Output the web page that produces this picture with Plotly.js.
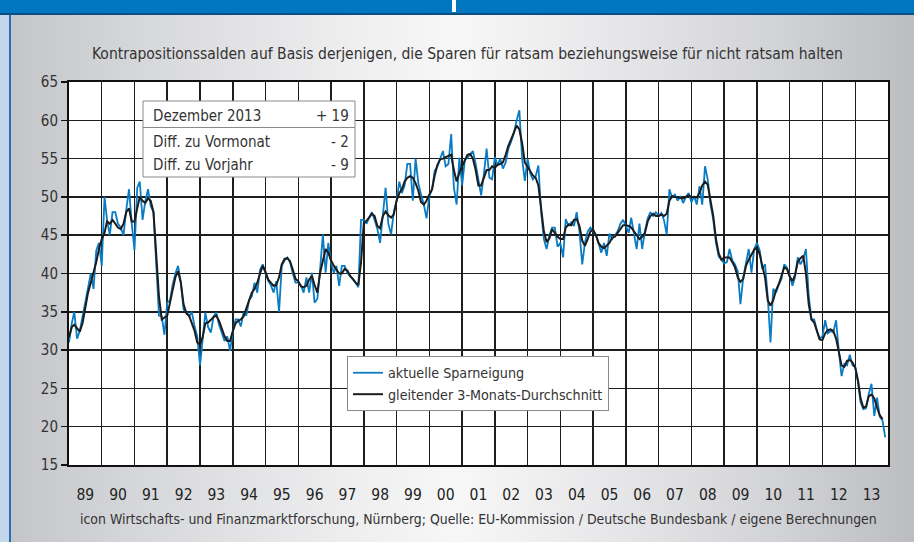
<!DOCTYPE html>
<html>
<head>
<meta charset="utf-8">
<script src="https://cdn.plot.ly/plotly-3.0.1.min.js"></script>
<style>
  html, body { margin:0; padding:0; }
  #wrap { position:relative; width:914px; height:542px; overflow:hidden;
    background: linear-gradient(to right, #c3c4c8 0%, #d6d7da 15%, #eeeeef 38%, #f7f7f7 50%, #e9e9eb 65%, #d2d3d6 85%, #bcbdc1 100%); }
  #topbar { position:absolute; left:0; top:0; width:914px; height:13px; background:#0077c0; border-bottom:2px solid #0b4f82; }
  #mark { position:absolute; left:452px; top:0; width:4px; height:12px; background:#ffffff; }
  #leftstrip { position:absolute; left:0; top:15px; width:9px; height:527px; background:#c2d6ec; border-right:2px solid #2b6fb1; }
  #chart { position:absolute; left:0; top:0; width:914px; height:542px; }
</style>
</head>
<body>
<div id="wrap">
  <div id="topbar"></div>
  <div id="mark"></div>
  <div id="leftstrip"></div>
  <div id="chart"></div>
</div>
<script>
// ---- data (monthly, Jan 1989 – Dec 2013) ----
const startYear = 1989;
const endYear = 2013;

const sparneigung = [
  31, 33.5, 35, 31.5, 32.5, 34.5, 36.5, 38.5, 40, 38, 43, 44,
  41, 50, 47, 45, 48, 48, 46.5, 46, 45, 48.3, 51, 46.6,
  43, 51.2, 52, 47, 49.4, 51, 48.8, 48, 41, 34.5, 34.4, 32,
  36.2, 36.5, 38.5, 40, 41, 38.8, 35.3, 35, 34.4, 35, 33.1, 31.8,
  28, 32, 34.9, 33, 32.3, 34.4, 34.9, 33.3, 32.3, 31.2, 31.8, 29.9,
  32.3, 34, 34, 33.1, 34.9, 34.5, 36.5, 37, 38.8, 37.5, 40.5, 41.2,
  40, 39, 38.5, 37.5, 39, 35, 41, 41.7, 42.1, 41.5, 40, 38.8,
  38.8, 38.4, 37.5, 39.5, 37.5, 40.1, 36.2, 36.7, 40.6, 45.1, 40.1, 44,
  41.4, 40.1, 41, 38.4, 41, 41, 40.1, 39.7, 39.3, 38.8, 38.2, 47,
  47, 46.5, 47.3, 48, 47, 45.8, 44, 47.5, 51.2, 46.5, 45.1, 48,
  49.5, 52, 50.5, 51.5, 54.3, 54.3, 49.5, 55, 51.8, 50.3, 49, 47.2,
  50.1, 51, 53.4, 54, 55.1, 56, 54, 54.3, 58.2, 51.2, 49, 55.1,
  51.5, 54.9, 55.1, 55.5, 56, 54.3, 52, 50.2, 53, 56.3, 52.5, 52.3,
  55.2, 54.1, 55, 53.7, 54.5, 56.3, 57.2, 58.3, 60, 61.3, 55, 52.1,
  55, 53, 52.3, 52.7, 54.1, 48, 44.5, 43.2, 45, 46, 46, 43.5,
  44, 42.1, 47.1, 46.2, 46.7, 46.2, 48, 45.5, 41.2, 44, 45.5, 46,
  45.5, 45, 44, 42.7, 44, 42.3, 45.2, 44.5, 45, 45.5, 46.5, 47,
  46.2, 45.3, 47.3, 45.3, 43.2, 46.5, 43.2, 45.5, 47.2, 48, 47.5, 48,
  47.5, 47.9, 47, 45.1, 51, 49.9, 50.3, 49.5, 50.1, 49.2, 50, 50.5,
  49.3, 50.1, 49, 51.4, 49, 54, 52.3, 49, 47, 44, 42.2, 41.8,
  41.3, 41.5, 43.2, 41.7, 41.2, 40.3, 36, 39.5, 41.2, 43.2, 40.1, 43.2,
  44, 43, 40.6, 41.2, 37, 31, 38, 37.5, 38.5, 39.3, 41.2, 40.8,
  39.7, 38.4, 39.5, 42.1, 41.2, 41.9, 43.2, 37.1, 34, 34, 32.5, 31.5,
  31.8, 33.9, 32.2, 32.5, 32.3, 33.9, 30, 26.6, 28.2, 28, 29.4, 28,
  27.8, 25.8, 23.2, 22.3, 22.4, 24.3, 25.6, 21.4, 23.8, 21.3, 20.8, 18.6
];

const durchschnitt = [
  31.7, 33, 33.3, 32.8, 32.4, 33.5, 35.5, 37.5, 38.8, 40, 41.5, 43.2,
  44.5, 45.3, 46.8, 46.5, 47, 46.5, 46, 45.8, 46.5, 48, 48.5, 46.8,
  46.8, 48.5, 50, 49.5, 49.2, 49.8, 49.5, 48, 43, 37, 34, 34.3,
  34.5, 36.2, 37.8, 39.5, 40.3, 38.8, 36, 34.8, 34.5, 33.5, 32.5, 31,
  30.7, 31.8, 33.5, 33.6, 34, 34.3, 34.5, 33.8, 32.8, 31.8, 31.2, 31.2,
  32.5, 33.5, 33.8, 34, 34.4, 35.5, 36.5, 37.5, 38, 38.8, 40, 41,
  40.2, 39.2, 38.8, 38.4, 38.5, 39.5, 41.2, 41.9, 42, 41.6, 40.5, 39.3,
  39, 38.3, 38.2, 38.4, 39.2, 39.7, 38.5, 37.5, 40.1, 41.7, 43.2, 42.7,
  41.7, 41, 40.5, 40, 40, 40.6, 40.4, 39.7, 39.3, 38.8, 38.5, 41.5,
  46.6, 46.9, 47.3, 47.8, 47.5, 46.2, 45.9, 47.5, 48.1, 47.6, 47.3, 47.7,
  49.5, 50.5, 51, 52, 52.5, 52.7, 52.5, 51.8, 50.8, 49.3, 49, 49.5,
  50.3, 51, 52.8, 54.2, 54.9, 55, 55.2, 55.4, 55.5, 53.5, 52, 53.2,
  54, 54.7, 55.5, 55.6, 55, 53.5, 51.5, 51.5, 52.6, 53.5, 53.5, 54,
  53.8, 54.2, 54.3, 54.5, 55.5, 56.7, 57.5, 58.5, 59.3, 58.8, 57, 54.5,
  53.9, 53.2, 52.8, 52.5, 51.5, 48.5, 45.5, 44.1, 44.6, 45.8, 45.3, 44.8,
  44.5, 44.5, 46, 46.4, 46.3, 47, 47.1, 46.2, 44.3, 43.6, 44.5, 45.5,
  45.7, 45, 44, 43.5, 43.3, 43.7, 44, 44.7, 44.8, 45.3, 45.9, 46.3,
  46.3, 46.2, 46, 45.5, 45, 44.5, 44.8, 45.3, 46.8, 47.5, 47.8, 47.5,
  47.5, 47.7, 47.5, 47.8, 49.5, 50.1, 50, 49.9, 49.9, 49.8, 50, 50.2,
  50, 50, 49.9, 50.5, 51.5, 52, 51.6, 49.6, 47.5, 44.5, 42.6, 41.8,
  42.1, 42.1, 42.1, 41.5, 40.8, 39.5, 38.9, 39.3, 41, 41.8, 42.5, 43.1,
  43.4, 42.5, 41, 39.5, 36.5, 35.8, 36.5, 37.8, 38.6, 39.8, 40.8, 40.6,
  39.6, 39, 39.8, 41.5, 42, 42.3, 40, 36, 34, 33.6, 32.5, 31.4,
  31.3, 32.2, 32.6, 32.7, 32.5, 31.5, 29.8, 28, 27.8, 28.6, 28.7, 28.4,
  27.7, 26, 23.7, 22.5, 22.6, 24, 24.2, 23.7, 22.5, 21.5, 21, null
];

const yearLabels = ['89','90','91','92','93','94','95','96','97','98','99','00','01',
                    '02','03','04','05','06','07','08','09','10','11','12','13'];

const seriesNames = ['aktuelle Sparneigung', 'gleitender 3-Monats-Durchschnitt'];

const infoRows = [
  ['Dezember 2013', '+ 19'],
  ['Diff. zu Vormonat', '- 2'],
  ['Diff. zu Vorjahr', '- 9']
];

const titleText = 'Kontrapositionssalden auf Basis derjenigen, die Sparen für ratsam beziehungsweise für nicht ratsam halten';
const footerText = 'icon Wirtschafts- und Finanzmarktforschung, Nürnberg; Quelle: EU-Kommission / Deutsche Bundesbank / eigene Berechnungen';

// ---- month dates ----
const dates = [];
for (let y = startYear; y <= endYear; y++) {
  for (let m = 1; m <= 12; m++) {
    dates.push(y + '-' + String(m).padStart(2, '0') + '-01');
  }
}
const labelPos = yearLabels.map((_, i) => (startYear + i) + '-07-02');
const gridPos = [];
for (let y = startYear; y <= endYear + 1; y++) gridPos.push(y + '-01-01');

const FONT = '"DejaVu Sans Condensed", "Liberation Sans Narrow", sans-serif';

const traces = [
  { x: dates, y: sparneigung, type: 'scatter', mode: 'lines', name: seriesNames[0],
    line: { color: '#0a7cc4', width: 1.8 } },
  { x: dates, y: durchschnitt, type: 'scatter', mode: 'lines', name: seriesNames[1],
    line: { color: '#1c1c1c', width: 2 } }
];

const L = 69, R = 888, T = 82, B = 465;
const px = v => (v - L) / (R - L);
const py = v => (B - v) / (B - T);

const annotations = [
  { text: titleText, xref: 'paper', yref: 'paper', x: px(467), y: py(54), xanchor: 'center', yanchor: 'middle',
    showarrow: false, font: { family: FONT, size: 15.5, color: '#333' } },
  { text: footerText, xref: 'paper', yref: 'paper', x: px(478), y: py(519), xanchor: 'center', yanchor: 'middle',
    showarrow: false, font: { family: FONT, size: 13.9, color: '#333' } }
];
const rowY = [116, 142, 165];
infoRows.forEach((r, i) => {
  annotations.push({ text: r[0], xref: 'paper', yref: 'paper', x: px(151), y: py(rowY[i]), xanchor: 'left', yanchor: 'middle',
    showarrow: false, font: { family: FONT, size: 15, color: '#333' } });
  annotations.push({ text: r[1], xref: 'paper', yref: 'paper', x: px(351), y: py(rowY[i]), xanchor: 'right', yanchor: 'middle',
    showarrow: false, font: { family: FONT, size: 15, color: '#333' } });
});

const shapes = [
  { type: 'rect', xref: 'paper', yref: 'paper', x0: px(143), x1: px(355), y0: py(177), y1: py(101),
    fillcolor: '#ffffff', line: { color: '#8a8a8a', width: 1 }, layer: 'above' },
  { type: 'line', xref: 'paper', yref: 'paper', x0: px(143), x1: px(355), y0: py(127.5), y1: py(127.5),
    line: { color: '#8a8a8a', width: 1 }, layer: 'above' }
];

const layout = {
  width: 914, height: 542,
  margin: { l: L, r: 914 - R, t: T, b: 542 - B, pad: 0 },
  paper_bgcolor: 'rgba(0,0,0,0)',
  plot_bgcolor: '#ffffff',
  font: { family: FONT, color: '#333' },
  showlegend: true,
  legend: { x: px(347), y: py(356), xanchor: 'left', yanchor: 'top', bgcolor: '#ffffff',
    bordercolor: '#8a8a8a', borderwidth: 1, font: { family: FONT, size: 14.2, color: '#333' },
    itemwidth: 30, tracegroupgap: 0 },
  xaxis: {
    type: 'date', range: ['1989-01-01', '2014-01-01'],
    tickmode: 'array', tickvals: labelPos, ticktext: yearLabels,
    showgrid: false, ticks: '', zeroline: false,
    showline: true, linecolor: '#111', linewidth: 2, mirror: true,
    ticklabelstandoff: 14,
    tickfont: { family: FONT, size: 15.5, color: '#222' },
    minor: { tickmode: 'array', tickvals: gridPos, showgrid: true, gridcolor: '#1e1e1e', gridwidth: 1.5, ticks: '' }
  },
  yaxis: {
    range: [15, 65], tickmode: 'linear', tick0: 15, dtick: 5,
    showgrid: true, gridcolor: '#1e1e1e', gridwidth: 1.5, zeroline: false,
    ticks: 'outside', ticklen: 6, tickcolor: '#111', tickwidth: 1.5,
    showline: true, linecolor: '#111', linewidth: 2, mirror: true,
    tickfont: { family: FONT, size: 15, color: '#333' }
  },
  annotations: annotations,
  shapes: shapes
};

Plotly.newPlot('chart', traces, layout, { displayModeBar: false, staticPlot: true });
</script>
</body>
</html>
